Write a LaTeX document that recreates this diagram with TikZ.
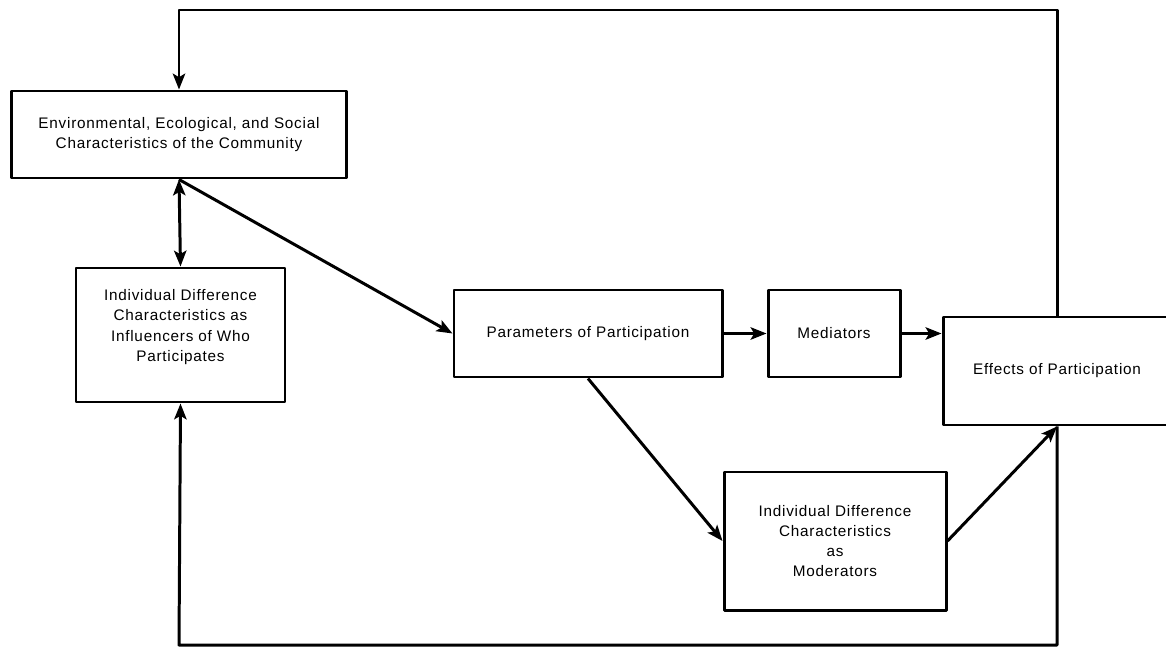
\documentclass[tikz,border=0pt]{standalone}
\usepackage{fontspec}
\setmainfont{Liberation Sans}[LetterSpace=5]
\usetikzlibrary{arrows.meta}
\usetikzlibrary{positioning}

\begin{document}
\begin{tikzpicture}
	\useasboundingbox (0,0) rectangle (23.32,-12.96);
	\clip (0,0) rectangle (23.32,-12.96);
	\begin{scope}[>={Stealth[length=9pt,width=7pt,inset=2pt]}, line width=1.7pt, line join=round, font=\fontsize{8.7}{11.5}\selectfont]

	\tikzset{box/.style={draw, align=center, inner sep=0pt}}

% boxes
\node[box, minimum width=6.7cm, minimum height=1.74cm] (env) at (3.58,-2.69)
	{Environmental, Ecological, and Social\\Characteristics of the Community};
\node[box, minimum width=4.18cm, minimum height=2.68cm,
	label={[align=center, yshift=0.16cm]center:{Individual Difference\\Characteristics as\\Influencers of Who\\Participates}}] (whoInd) at (3.61,-6.70) {};
\node[box, minimum width=5.36cm, minimum height=1.74cm] (params) at (11.76,-6.67)
	{Parameters of Participation};
\node[box, minimum width=2.64cm, minimum height=1.74cm] (mediators) at (16.68,-6.67)
	{Mediators};
\node[box, minimum width=4.56cm, minimum height=2.16cm] (effects) at (21.14,-7.42)
	{Effects of Participation};
\node[box, minimum width=4.44cm, minimum height=2.76cm] (moderators) at (16.70,-10.82)
	{Individual Difference\\Characteristics\\as\\Moderators};

% feedback loops
\coordinate (topTurn) at (3.58,-0.2);
\coordinate (botTurn) at (3.58,-12.9);
\draw[->] (effects.north) |- (topTurn) -- (env.north);
\draw[->] (effects.south) |- (botTurn) -- (whoInd.south);

% main flow
\draw[<->] (env.south) -- (whoInd.north);
\draw[->] (env.south) -- (params.west);
\draw[->] (params) -- (mediators);
\draw[->] (mediators.east) -- (mediators.east -| effects.west);
\draw[->] (params.south) -- (moderators.west);
\draw[->] (moderators.east) -- (effects.south);

	\end{scope}
\end{tikzpicture}
\end{document}
